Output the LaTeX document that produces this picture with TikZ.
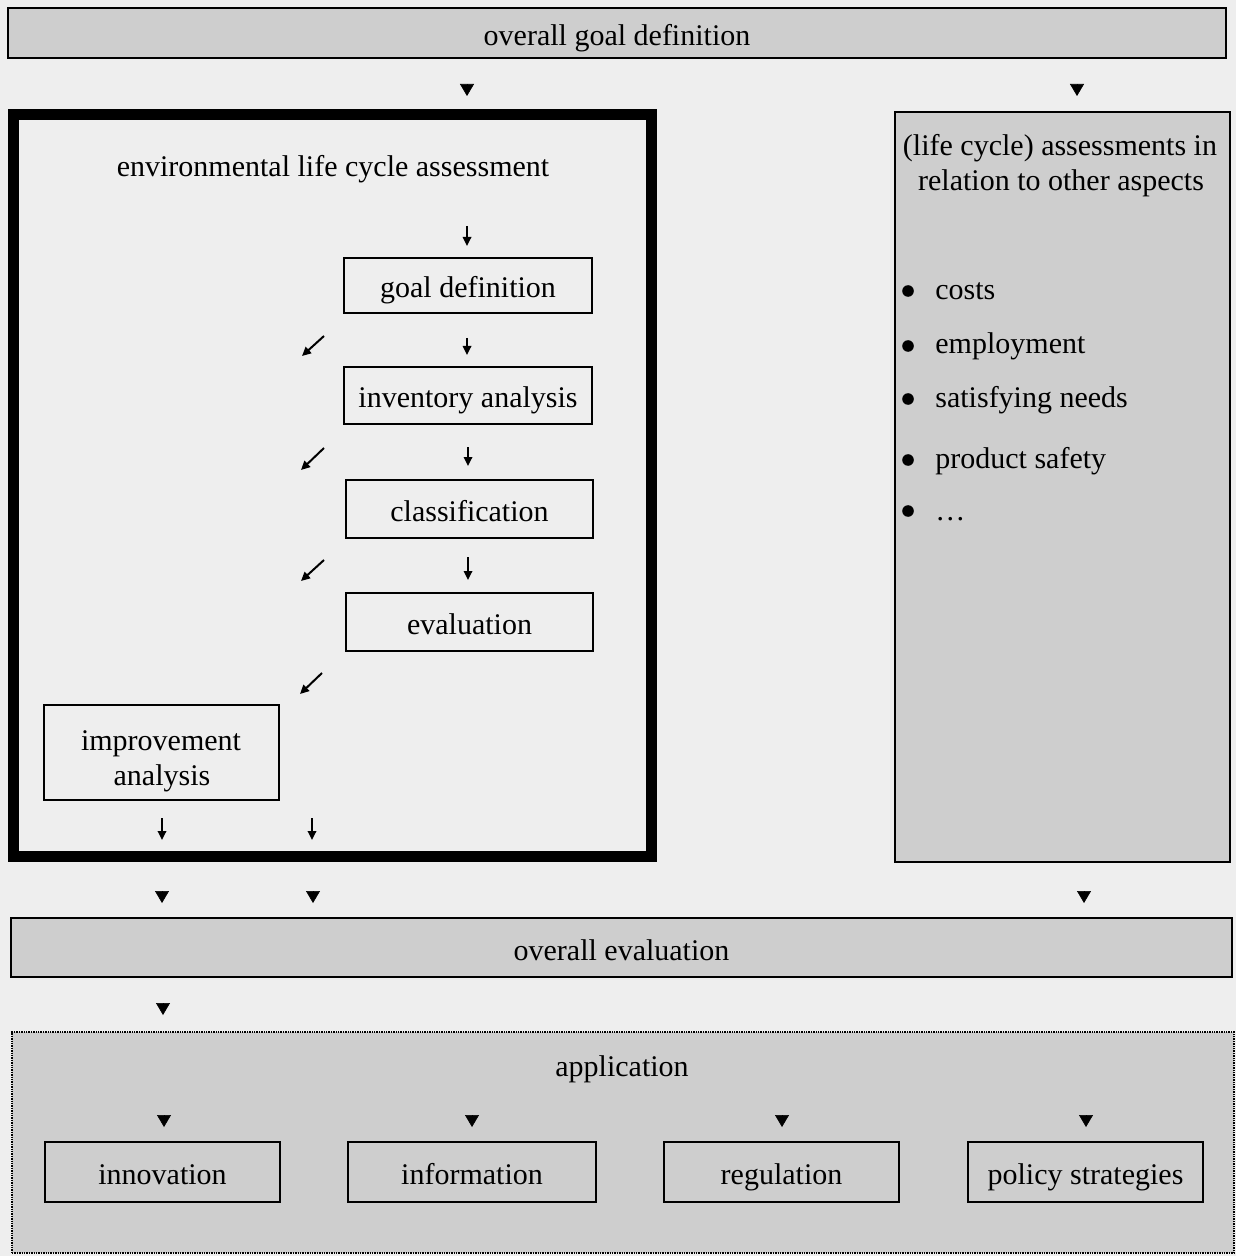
\documentclass[tikz,border=0pt]{standalone}
\usepackage{fontspec}
\setmainfont{Liberation Serif}
\usetikzlibrary{arrows.meta}
\definecolor{paper}{RGB}{238,238,238}
\definecolor{stip}{RGB}{206,206,206}
\begin{document}
\begin{tikzpicture}[x=0.5pt,y=-0.5pt,
  every node/.style={font=\fontsize{15}{17}\selectfont},
  box/.style={draw, line width=1.3pt, inner sep=0pt, text height=12.5pt, text depth=0pt},
  greybox/.style={box, fill=stip, line width=1.1pt},
  txt/.style={inner sep=0pt, anchor=base},
  tri/.style={-{Triangle[length=6pt,width=7pt]}, line width=0.3pt},
  thinarr/.style={-{Triangle[length=4.5pt,width=4.2pt]}, line width=1pt},
  bullet/.style={circle, fill, inner sep=0pt, minimum size=5.8pt},
]
\fill[paper] (0,0) rectangle (1236,1256);
\useasboundingbox (0,0) rectangle (1236,1256);

% top box
\node[greybox, minimum width=609pt, minimum height=25pt] (top) at (617,33) {overall goal definition};

% environmental LCA box
\node[draw, line width=5.5pt, inner sep=0pt, minimum width=319pt, minimum height=370.5pt] (elca) at (332,485.5) {};
\node[txt] (elcatitle) at (333,177) {environmental life cycle assessment};
\node[box, minimum width=124pt, minimum height=27.5pt] (gd) at (468,285.5) {goal definition};
\node[box, minimum width=124pt, minimum height=28.5pt] (inv) at (468,395.5) {inventory analysis};
\node[box, minimum width=123.5pt, minimum height=29pt] (cls) at (469.5,509) {classification};
\node[box, minimum width=123.5pt, minimum height=29pt] (evl) at (469.5,622) {evaluation};
\node[box, minimum width=117.5pt, minimum height=47.5pt] (imp) at (161.5,752.5) {};
\node[txt] (imp1) at (161,750) {improvement};
\node[txt] (imp2) at (162,785) {analysis};

% right box
\node[greybox, line width=1pt, minimum width=167.5pt, minimum height=375pt] (ra) at (1062.5,487) {};
\node[txt] (ra1) at (1060,156) {(life cycle) assessments in};
\node[txt] (ra2) at (1061,191) {relation to other aspects};
\node[bullet] (b1) at (908,291) {};
\node[bullet] (b2) at (908,346) {};
\node[bullet] (b3) at (908,399) {};
\node[bullet] (b4) at (908,460) {};
\node[bullet] (b5) at (908,511) {};
\node[txt, anchor=base west] (i1) at (935,300) {costs};
\node[txt, anchor=base west] (i2) at (935,354) {employment};
\node[txt, anchor=base west] (i3) at (935,408) {satisfying needs};
\node[txt, anchor=base west] (i4) at (935,468) {product safety};
\node[txt, anchor=base west] (i5) at (935,520) {\dots};

% overall evaluation
\node[greybox, minimum width=610.5pt, minimum height=29.5pt] (oe) at (621.5,947.5) {overall evaluation};

% application
\node[draw, fill=stip, line width=1pt, dash pattern=on 0.7pt off 0.5pt, inner sep=0pt, minimum width=611pt, minimum height=110.5pt] (app) at (623,1142.5) {};
\node[txt] (apptitle) at (622,1076) {application};
\node[greybox, minimum width=117.5pt, minimum height=30pt] (inno) at (162.5,1172) {innovation};
\node[greybox, minimum width=124pt, minimum height=30pt] (info) at (472,1172) {information};
\node[greybox, minimum width=117.5pt, minimum height=30pt] (reg) at (781.5,1172) {regulation};
\node[greybox, minimum width=117.5pt, minimum height=30pt] (pol) at (1085.5,1172) {policy strategies};

% triangle arrow tips (shaftless connectors)
\foreach \n/\x/\y in {t1/467/96, t2/1077/96, t3/162/903, t4/313/903, t5/1084/903,
                      t6/163/1015, t7/164/1127, t8/472/1127, t9/782/1127, t10/1086/1127}{
  \coordinate (\n) at (\x,\y);
  \coordinate (\n s) at (\x,\y-1);
  \draw[tri] (\n s) -- (\n);
}

% thin arrows inside the LCA box
\foreach \n/\xa/\ya/\xb/\yb in {a1/467/226/467/246, a2/467/338/467/355, a3/468/447/468/466,
    a4/468/557/468/580, a5/162/818/162/840, a6/312/818/312/840,
    d1/324/336/302/356, d2/324/448/301/470, d3/324/560/301/581, d4/322/673/300/694}{
  \coordinate (\n s) at (\xa,\ya);
  \coordinate (\n e) at (\xb,\yb);
  \draw[thinarr] (\n s) -- (\n e);
}
\end{tikzpicture}
\end{document}
